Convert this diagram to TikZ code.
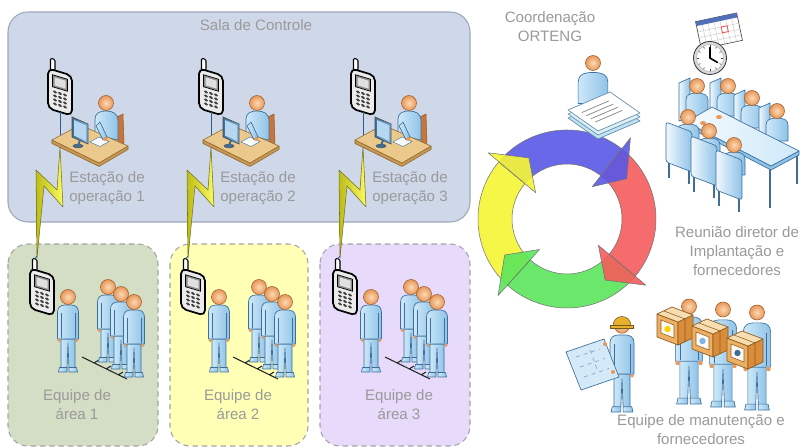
\documentclass[tikz,border=0pt]{standalone}
\usepackage{fontspec}
\setmainfont{Liberation Sans}
\usetikzlibrary{calc}

\definecolor{salafill}{HTML}{CFD8E8}
\definecolor{salaline}{HTML}{9EA8BC}
\definecolor{boxgreen}{HTML}{D4DEC4}
\definecolor{boxyellow}{HTML}{FFFFB6}
\definecolor{boxlilac}{HTML}{E7DAFA}
\definecolor{dashgray}{HTML}{A4A4A4}
\definecolor{labelgray}{HTML}{9A9A9A}
\definecolor{skin}{HTML}{E8985A}
\definecolor{skinlt}{HTML}{FCD9B4}
\definecolor{skinline}{HTML}{9C5B2A}
\definecolor{bodylt}{HTML}{CDE8F9}
\definecolor{bodymid}{HTML}{8FC3E8}
\definecolor{bodyline}{HTML}{3D6F9A}
\definecolor{desktop}{HTML}{EBC98C}
\definecolor{deskfront}{HTML}{C99850}
\definecolor{deskline}{HTML}{8A6430}
\definecolor{chairbrown}{HTML}{C8743A}
\definecolor{screenblue}{HTML}{7DB6E3}
\definecolor{cycblue}{HTML}{5858E6}
\definecolor{cycred}{HTML}{F65B5B}
\definecolor{cycgreen}{HTML}{5BE65B}
\definecolor{cycyellow}{HTML}{F6F636}
\definecolor{boltlt}{HTML}{FAFA60}
\definecolor{boltdk}{HTML}{BDBD18}
\definecolor{boltline}{HTML}{6E6E22}
\definecolor{wirecol}{HTML}{2F5C8A}
\definecolor{paperblue}{HTML}{BFE3EF}
\definecolor{calblue}{HTML}{5270B8}
\definecolor{hatyellow}{HTML}{E7B12C}
\definecolor{crtop}{HTML}{F7DDB0}
\definecolor{crleft}{HTML}{EDB062}
\definecolor{crright}{HTML}{D98C3A}
\definecolor{crline}{HTML}{8C5A20}
\definecolor{planblue}{HTML}{D4EAF8}

\tikzset{
  lbl/.style={text=labelgray, align=center, inner sep=0pt,
    font=\fontsize{11.3}{14.3}\selectfont},
  pbody/.style={left color=bodylt, right color=bodymid, draw=bodyline,
    line width=0.5pt, line join=round},
  chairpanel/.style={left color=white!70!bodylt, right color=bodymid,
    draw=bodyline, line width=0.5pt, line join=round},
  wire/.style={draw=wirecol, line width=0.6pt},
  roombox/.style={rounded corners=15pt, line width=0.8pt},
  teambox/.style={rounded corners=15pt, draw=dashgray, line width=0.8pt,
    dash pattern=on 4pt off 3pt},
  head/.pic={
    \shade[inner color=skinlt, outer color=skin] (0,0) circle (7.5);
    \draw[skinline, line width=0.4pt] (0,0) circle (7.5);
  },
  % seated figure, origin at the head centre
  torso/.pic={
    \shadedraw[pbody] (-11,30) -- (-11,14) .. controls (-11,9) and (-7,7) .. (0,7)
      .. controls (7,7) and (11,9) .. (11,14) -- (11,30) -- cycle;
    \pic at (0,0) {head};
  },
  % standing figure, origin between the feet
  stand/.pic={
    \shadedraw[pbody] (-7,-33) -- (-7,-4) -- (-1,-4) -- (0,-29) -- (1,-4) -- (7,-4) -- (7,-33) -- cycle;
    \shadedraw[pbody] (-8.5,-4.5) -- (-1,-4.5) -- (-1,0) -- (-9.5,0) -- cycle;
    \shadedraw[pbody] (1,-4.5) -- (8.5,-4.5) -- (9.5,0) -- (1,0) -- cycle;
    \shadedraw[pbody] (-10.5,-33) -- (-10.5,-60) .. controls (-10.5,-65) and (-7,-67) .. (-3,-67)
      -- (3,-67) .. controls (7,-67) and (10.5,-65) .. (10.5,-60) -- (10.5,-33) -- cycle;
    \draw[bodyline, line width=0.4pt] (-7,-59) -- (-7,-34) (7,-59) -- (7,-34);
    \fill[skin] (-8.8,-31.5) circle (1.7) (8.8,-31.5) circle (1.7);
    \pic at (0,-75) {head};
  },
  % mobile phone, origin at the body centre
  phone/.pic={
    \begin{scope}[yslant=-0.3]
      \filldraw[fill=white, draw=black, line width=0.8pt, rounded corners=1pt] (-9.5,-31) rectangle (-5,-19);
      \filldraw[fill=black!8, draw=black, line width=1.3pt, rounded corners=4pt] (-12,-20) rectangle (12,20);
      \filldraw[fill=black!45, draw=black, line width=0.5pt] (-7.5,-15) rectangle (7.5,-3);
      \fill[black!12] (-5.5,-13) rectangle (5.5,-5);
      \foreach \u in {-5,0,5} \foreach \v in {1.5,5.5,9.5,13.5}
        \fill[black!75] (\u,\v) ellipse (1.9 and 1.4);
      \coordinate (-bot) at (0,20);
      \coordinate (-ant) at (-7.2,-31);
    \end{scope}
  },
  % operator at a desk (drawn for the first station)
  desk/.pic={
    \filldraw[fill=chairbrown, draw=deskline, line width=0.4pt] (117,117) -- (123,114) -- (124,143) -- (118,146) -- cycle;
    \shadedraw[pbody] (95,135) -- (95,119) .. controls (95,113) and (100,111) .. (106,111)
      .. controls (113,111) and (118,114) .. (118,120) -- (118,140) -- cycle;
    \pic at (106,103) {head};
    \filldraw[fill=deskfront, draw=deskline, line width=0.4pt, line join=round]
      (52,140) -- (52,143.5) -- (99,166.5) -- (128,149.5) -- (128,146) -- (99,163) -- cycle;
    \filldraw[fill=desktop, draw=deskline, line width=0.4pt, line join=round]
      (52,140) -- (80,125) -- (128,146) -- (99,163) -- cycle;
    \filldraw[fill=white!85!bodylt, draw=bodyline, line width=0.3pt] (90,142) -- (99,137) -- (109,141.5) -- (100,146.5) -- cycle;
    \shadedraw[pbody] (100,122) -- (107,137) -- (103,140) -- (96,126) -- cycle;
    \fill[skin] (105,139) circle (2);
    \filldraw[fill=bodyline, draw=black!70, line width=0.3pt] (78,146) ellipse (5 and 2);
    \draw[line width=1.5pt, bodyline] (80,140) -- (78,146);
    \shadedraw[left color=bodyline, right color=screenblue, draw=black!70, line width=0.5pt]
      (72,117) -- (88,124) -- (88,144) -- (72,137) -- cycle;
    \fill[screenblue!55!white] (74,120) -- (86,125.5) -- (86,141) -- (74,135.5) -- cycle;
  },
  % field team (drawn for the first area)
  team/.pic={
    \draw[black!85, line width=0.8pt] (82,357) -- (127,379)
      (94,363) -- (99,360) (106,369) -- (111,366) (118,375) -- (123,372);
    \pic at (68,372) {stand};
    \pic at (108,362) {stand};
    \pic at (121,369) {stand};
    \pic at (134,377) {stand};
  },
  crate/.pic={
    \filldraw[fill=crleft, draw=crline, line width=0.5pt, line join=round] (0,7) -- (21,15) -- (21,38) -- (0,30) -- cycle;
    \filldraw[fill=crright, draw=crline, line width=0.5pt, line join=round] (21,15) -- (36,8) -- (36,31) -- (21,38) -- cycle;
    \filldraw[fill=crtop, draw=crline, line width=0.5pt, line join=round] (0,7) -- (15,0) -- (36,8) -- (21,15) -- cycle;
    \draw[crline, line width=0.4pt] (7,4) -- (28,12) (28,12) -- (28,35);
    \filldraw[fill=white!85!crtop, draw=crline, line width=0.4pt] (4,13) -- (17,18) -- (17,31) -- (4,26) -- cycle;
    \fill[#1] (10.5,22) circle (3.2);
  },
}

\begin{document}
\begin{tikzpicture}[x=0.75pt, y=-0.75pt]
  \fill[white] (0,0) rectangle (804,448);
  \useasboundingbox (0,0) rectangle (804,448);

  % ---------- control room and area boxes ----------
  \draw[roombox, fill=salafill, draw=salaline] (8,12) rectangle (470,222);
  \node[lbl] (sala) at (256,25) {Sala de Controle};
  \fill[boxgreen, rounded corners=15pt] (8,244) rectangle (158,446);
  \draw[teambox] (8,244) rectangle (158,446);
  \fill[boxyellow, rounded corners=15pt] (170,244) rectangle (308,446);
  \draw[teambox] (170,244) rectangle (308,446);
  \fill[boxlilac, rounded corners=15pt] (320,244) rectangle (470,446);
  \draw[teambox] (320,244) rectangle (470,446);

  % ---------- operator stations with radio link ----------
  \foreach \i/\dx in {1/0, 2/151, 3/303} {
    \pic (sp\i) at (60+\dx,92) {phone};
    \coordinate (bt\i) at (60+\dx,148);
    \coordinate (bb\i) at (37+\dx,256);
    \draw[wire] (sp\i-bot) -- (bt\i);
    \begin{scope}[shift={(\dx,0)}]
      \shade[left color=boltdk, right color=boltlt]
        (60,147) -- (63,207) -- (44,186) -- (37,258) -- (36,170) -- (57,190) -- cycle;
      \draw[boltline, line width=0.4pt, line join=round]
        (60,147) -- (63,207) -- (44,186) -- (37,258) -- (36,170) -- (57,190) -- cycle;
      \pic at (0,0) {desk};
    \end{scope}
    \node[lbl] (st\i) at (107+\dx,188) {Estação de\\operação \i};
  }

  % ---------- field teams ----------
  \foreach \i/\dx/\tx in {1/0/77, 2/151/238, 3/303/399} {
    \pic at (\dx,0) {team};
    \pic (tp\i) at (42+\dx,292) {phone};
    \draw[wire] (bb\i) -- (tp\i-ant);
    \node[lbl] (eq\i) at (\tx,405) {Equipe de\\área \i};
  }

  % ---------- coordination cycle ----------
  \begin{scope}[shift={(567,219)}, yscale=-1]
    \foreach \a/\b/\c in {228/140/cycyellow, 140/52/cycblue, 52/-40/cycred, -40/-132/cycgreen}
      \filldraw[fill=\c, fill opacity=0.9, draw=black!55, line width=0.4pt]
        (\a:55) arc[start angle=\a, end angle=\b, radius=55] -- (\b:89)
        arc[start angle=\b, end angle=\a, radius=89] -- cycle;
    \foreach \b/\c in {140/cycyellow, 52/cycblue, -40/cycred, -132/cycgreen}
      \filldraw[fill=\c, fill opacity=0.9, draw=black!55, line width=0.4pt, line join=round]
        (\b:41) -- (\b-18:72) -- (\b:103) -- cycle;
  \end{scope}

  % coordinator with documents
  \pic[scale=1.35] at (593,63) {torso};
  \foreach \dy/\f in {8/paperblue, 4/paperblue!55!white, 0/white} {
    \filldraw[fill=\f, draw=bodyline!80, line width=0.5pt, line join=round]
      (568,110+\dy) -- (610,92+\dy) -- (640,113+\dy) -- (598,131+\dy) -- cycle;
  }
  \foreach \t in {0.25,0.4,0.55,0.7}
    \draw[gray, line width=0.5pt] ({574.3+30*\t},{107.3+21*\t}) -- ++(27,-11.6);
  \node[lbl] (coord) at (550,27) {Coordenação\\ORTENG};

  % ---------- meeting ----------
  \begin{scope}[shift={(719,31)}, rotate=12]
    \filldraw[fill=white, draw=gray!60!black, line width=0.5pt] (-21,-14) rectangle (21,14);
    \fill[calblue] (-21,-14) rectangle (21,-9.5);
    \foreach \u in {-15,-9,...,15} \draw[gray!45, line width=0.3pt] (\u,-9.5) -- (\u,14);
    \foreach \v in {-3.5,2.5,8.5} \draw[gray!45, line width=0.3pt] (-21,\v) -- (21,\v);
    \draw[red!70, line width=0.6pt] (3,-3.5) rectangle (9,2.5);
  \end{scope}
  \filldraw[fill=gray!30, draw=gray!40!black, line width=0.6pt] (710,58) circle (16.5);
  \filldraw[fill=white, draw=gray!60, line width=0.4pt] (710,58) circle (13.5);
  \foreach \a in {0,30,...,330}
    \draw[gray!50!black, line width=0.4pt] ($(710,58)+(\a:11)$) -- ($(710,58)+(\a:13)$);
  \draw[line width=1.2pt, line cap=round] (710,47.5) -- (710,58) -- (717.5,62.5);

  \foreach \hx/\hy in {697/86, 728/86, 752/98, 777/111} {
    \shadedraw[chairpanel] (\hx-18,\hy-3) -- (\hx-7,\hy-8) -- (\hx-7,\hy+30) -- (\hx-18,\hy+35) -- cycle;
    \pic at (\hx,\hy) {torso};
  }
  \draw[bodyline, line width=1.8pt] (770,168) -- (770,208) (797,153) -- (797,184);
  \filldraw[fill=bodymid, draw=bodyline, line width=0.5pt, line join=round]
    (686,122) -- (771,166) -- (799,151) -- (799,155) -- (771,170) -- (686,126) -- cycle;
  \shadedraw[left color=white!80!bodylt, right color=bodylt, draw=bodyline, line width=0.5pt, line join=round]
    (712,107) -- (799,151) -- (771,166) -- (686,122) -- cycle;
  \fill[skin] (719,117) ellipse (3 and 2) (703,123) ellipse (3 and 2);
  \foreach \hx/\hy in {688/117, 709/131, 734/145}
    \pic at (\hx,\hy) {torso};
  \foreach \cx/\cy in {666/122, 691/136, 716/150} {
    \draw[bodyline, line width=1.8pt] (\cx+3,\cy+38) -- (\cx+3,\cy+56) (\cx+23,\cy+47) -- (\cx+23,\cy+62);
    \shadedraw[chairpanel, rounded corners=2pt] (\cx,\cy) -- (\cx+26,\cy+10) -- (\cx+26,\cy+50) -- (\cx,\cy+40) -- cycle;
  }
  \node[lbl] (reuniao) at (737,251) {Reunião diretor de\\Implantação e\\fornecedores};

  % ---------- maintenance crew ----------
  \pic[scale=1.15] at (622,412) {stand};
  \filldraw[fill=hatyellow, draw=hatyellow!50!black, line width=0.4pt]
    (613,327) .. controls (612.5,313) and (631.5,313) .. (631,327) -- cycle;
  \filldraw[fill=hatyellow, draw=hatyellow!50!black, line width=0.4pt] (610.5,325.5) rectangle (633.5,328.5);
  \filldraw[fill=planblue, draw=bodyline, line width=0.5pt, line join=round]
    (566,352) -- (604,339) -- (619,377) -- (581,390) -- cycle;
  \draw[bodyline!70, dashed, line width=0.4pt] (576,357) -- (600,349) (580,367) -- (605,358.5) (584,377) -- (609,368.5) (590,350) -- (598,372);
  \fill[skin] (605,344) circle (2) (613,372) circle (2);

  \pic[scale=1.3] at (689,404) {stand};
  \pic at (657,307) {crate=yellow!70!orange};
  \pic[scale=1.3] at (723,407) {stand};
  \pic at (692,319) {crate=screenblue};
  \pic[scale=1.3] at (757,410) {stand};
  \pic at (727,331) {crate=bodyline};
  \node[lbl] (manut) at (701,430) {Equipe de manutenção e\\fornecedores};
\end{tikzpicture}
\end{document}
